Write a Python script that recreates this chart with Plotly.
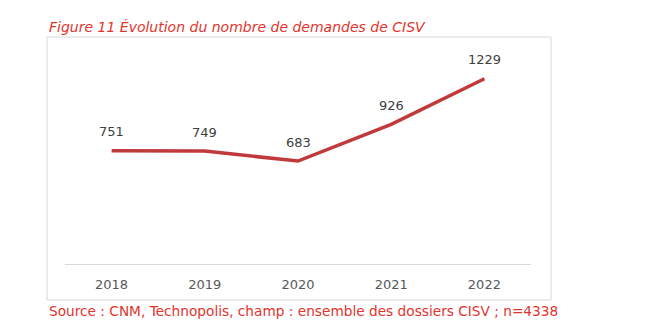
import plotly.graph_objects as go

years = ["2018", "2019", "2020", "2021", "2022"]
demandes = [751, 749, 683, 926, 1229]

title_text = "Figure 11 Évolution du nombre de demandes de CISV"
source_text = "Source : CNM, Technopolis, champ : ensemble des dossiers CISV ; n=4338"

line_color = "#C0393B"
accent = "#E2342D"
label_color = "#404040"

fig = go.Figure(
    go.Scatter(
        x=years,
        y=demandes,
        mode="lines",
        line=dict(color=line_color, width=3.5),
        hoverinfo="skip",
    )
)

# value labels above each point (x given as category index)
value_labels = [
    dict(
        x=i,
        y=v,
        xref="x",
        yref="y",
        text=str(v),
        showarrow=False,
        yanchor="middle",
        yshift=19,
        font=dict(family="DejaVu Sans", size=13, color=label_color),
    )
    for i, v in enumerate(demandes)
]

fig.update_layout(
    width=664,
    height=336,
    margin=dict(l=65, r=133, t=53, b=72),
    paper_bgcolor="white",
    plot_bgcolor="white",
    showlegend=False,
    font=dict(family="DejaVu Sans"),
    xaxis=dict(
        type="category",
        range=[-0.5, 4.5],
        showgrid=False,
        showline=True,
        linecolor="#D9D9D9",
        linewidth=1,
        ticks="",
        tickfont=dict(size=13, color="#595959"),
        ticklabelstandoff=8,
    ),
    yaxis=dict(
        range=[0, 1400],
        showgrid=False,
        showticklabels=False,
        zeroline=False,
        showline=False,
    ),
    shapes=[
        dict(
            type="rect",
            xref="paper",
            yref="paper",
            x0=-0.0386,
            x1=1.043,
            y0=-0.1706,
            y1=1.0758,
            line=dict(color="#D9D9D9", width=1),
            layer="below",
        )
    ],
    annotations=value_labels
    + [
        dict(
            text=f"<i>{title_text}</i>",
            xref="paper",
            yref="paper",
            x=-0.0386,
            y=1.0758,
            xanchor="left",
            yanchor="bottom",
            yshift=0,
            showarrow=False,
            font=dict(family="DejaVu Sans", size=14, color=accent),
        ),
        dict(
            text=source_text,
            xref="paper",
            yref="paper",
            x=-0.0386,
            y=-0.1706,
            xanchor="left",
            yanchor="top",
            yshift=-1,
            showarrow=False,
            font=dict(family="DejaVu Sans", size=13.7, color=accent),
        ),
    ],
)

fig.write_html("out.html")
